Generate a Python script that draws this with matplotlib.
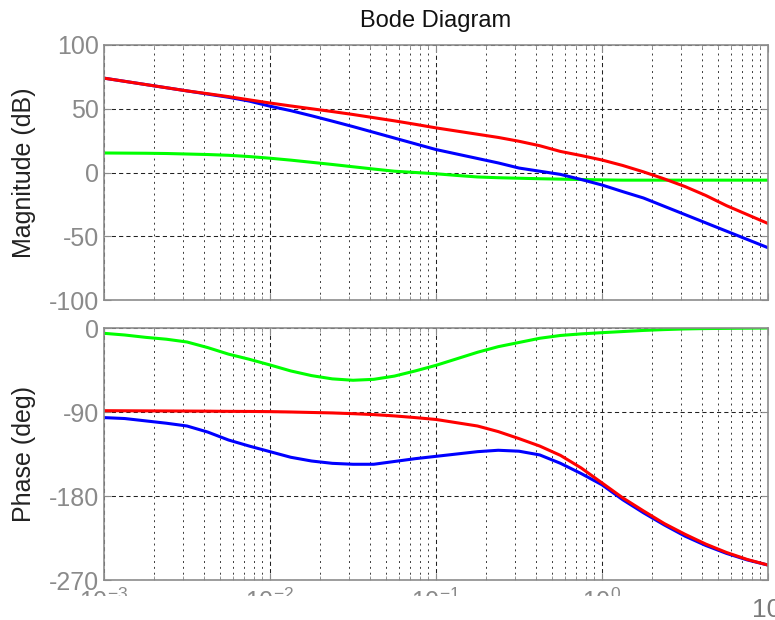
import numpy as np
import matplotlib
matplotlib.use("Agg")
import matplotlib.pyplot as plt
from matplotlib.ticker import FixedLocator, LogLocator, NullFormatter, FixedFormatter
from matplotlib.transforms import Bbox, TransformedBbox

plt.rcParams['font.family'] = ['Liberation Sans', 'DejaVu Sans']
plt.rcParams['mathtext.fontset'] = 'custom'
plt.rcParams['mathtext.rm'] = 'Liberation Sans'
plt.rcParams['mathtext.it'] = 'Liberation Sans:italic'

# ---- data ----
log_freq = [-3, -2.875, -2.75, -2.625, -2.5, -2.375, -2.25, -2.125, -2,
            -1.875, -1.75, -1.625, -1.5, -1.375, -1.25, -1.125, -1,
            -0.875, -0.75, -0.625, -0.5, -0.375, -0.25, -0.125, 0,
            0.125, 0.25, 0.375, 0.5, 0.625, 0.75, 0.875, 1]
freq = [10.0 ** v for v in log_freq]

mag_red = [74, 71.5, 69, 66.5, 64, 61.8, 59.5, 57, 54.5,
           52.2, 50, 47.8, 45.5, 43, 40.5, 37.8, 35,
           32.5, 30, 27.5, 24.5, 21, 16.5, 13.3, 9.8,
           5.5, 0.5, -5, -11, -18, -26, -33, -40]
mag_blue = [74, 71.5, 69, 66.5, 64, 61.5, 59, 56, 52,
            48.5, 44.5, 40.3, 36, 31.5, 27, 22.5, 18,
            14.5, 11, 7.5, 3.5, 1, -1.5, -5.5, -9.8,
            -15, -20, -26.5, -33, -39.5, -46, -52.5, -59]
mag_green = [15.3, 15.2, 15.1, 14.9, 14.5, 14.1, 13.5, 12.5, 11.2,
             9.7, 8, 6.3, 4.5, 2.7, 1, 0, -1,
             -2.3, -3.5, -4.1, -4.5, -4.9, -5.2, -5.5, -5.8,
             -6, -6, -6, -6, -6, -6, -6, -6]

ph_red = [-88.6, -88.7, -88.8, -88.9, -89, -89.1, -89.3, -89.4, -89.6,
          -90, -90.5, -91, -91.8, -92.8, -94.2, -96, -98,
          -101.5, -105, -111, -118.5, -126.5, -136.5, -150, -166,
          -182, -196, -209.5, -221, -231.5, -240.5, -248, -254]
ph_blue = [-96, -97, -99.5, -102, -105, -111.5, -120, -126.5, -132.5,
           -138.5, -142.5, -145, -146, -146, -143, -140, -137.5,
           -135, -132.5, -131, -132, -136, -145, -156, -168,
           -184, -198, -211, -223, -233, -241.5, -248.5, -254]
ph_green = [-5.7, -7.5, -10, -12, -15, -21, -28, -33.5, -39.6,
            -46, -51, -54.5, -56, -55, -51.5, -46, -40,
            -33, -26, -20, -15.5, -11, -8, -6.3, -5,
            -3.8, -2.6, -1.7, -1, -0.6, -0.4, -0.2, 0]

mag_ticks = [-100, -50, 0, 50, 100]
ph_ticks = [-270, -180, -90, 0]
x_ticks = [1e-3, 1e-2, 1e-1, 1e0, 1e1]
x_ticklabels = ['$10^{-3}$', '$10^{-2}$', '$10^{-1}$', '$10^{0}$', '']

# ---- figure ----
W, H = 775, 620
fig = plt.figure(figsize=(W / 100, H / 100), dpi=100)

def rect(x0, y0, x1, y1):
    return [x0 / W, 1 - y1 / H, (x1 - x0) / W, (y1 - y0) / H]

ax1 = fig.add_axes(rect(104, 45, 768, 300))
ax2 = fig.add_axes(rect(104, 328, 768, 580))

tick_col = '#8a8a8a'
frame_col = '#8c8c8c'

for ax in (ax1, ax2):
    ax.set_xscale('log')
    ax.set_xlim(1e-3, 10)
    ax.xaxis.set_major_locator(FixedLocator(x_ticks))
    ax.xaxis.set_minor_locator(LogLocator(base=10, subs=np.arange(2, 10)))
    ax.xaxis.set_minor_formatter(NullFormatter())
    ax.grid(True, which='major', axis='both', color='#222222', linestyle=(0, (4, 3)), linewidth=0.75)
    ax.grid(True, which='minor', axis='x', color='#3a3a3a', linestyle=(0, (2, 4)), linewidth=0.7)
    for s in ax.spines.values():
        s.set_color(frame_col)
        s.set_linewidth(1.2)
    ax.tick_params(which='both', direction='in', top=True, right=True, colors=frame_col,
                   labelcolor=tick_col, labelsize=18)
    ax.tick_params(which='major', length=5)
    ax.tick_params(which='minor', length=3)

ax1.plot(freq, mag_green, color='#00ff00', lw=2.2)
ax1.plot(freq, mag_blue, color='#0000ff', lw=2.2)
ax1.plot(freq, mag_red, color='#ff0000', lw=2.2)
ax1.set_ylim(-100, 100)
ax1.set_yticks(mag_ticks)
ax1.set_yticklabels([str(v) for v in mag_ticks])
ax1.tick_params(labelbottom=False)
ax1.set_ylabel('Magnitude (dB)', fontsize=18, color='#222222')
ax1.set_title('Bode Diagram', fontsize=17, color='#111111', pad=13)

ax2.plot(freq, ph_green, color='#00ff00', lw=2.2)
ax2.plot(freq, ph_blue, color='#0000ff', lw=2.2)
ax2.plot(freq, ph_red, color='#ff0000', lw=2.2)
ax2.set_ylim(-270, 0)
ax2.set_yticks(ph_ticks)
ax2.set_yticklabels([str(v) for v in ph_ticks])
ax2.xaxis.set_major_formatter(FixedFormatter(x_ticklabels))
ax2.tick_params(axis='x', pad=6)
ax2.set_ylabel('Phase (deg)', fontsize=18, color='#222222')

for ax in (ax1, ax2):
    ax.yaxis.set_label_coords(-0.103, 0.5)

# tick labels of the frequency axis are cut off in the reference
clip = TransformedBbox(Bbox([[0, 24 / H], [1, 1]]), fig.transFigure)
for lbl in ax2.get_xticklabels():
    lbl.set_clip_on(True)
    lbl.set_clip_box(clip)

fig.text(752 / W, 1 - 598 / H, '10', fontsize=19, color='#7a7a7a', ha='left', va='top')

fig.savefig('out.png', dpi=100)
